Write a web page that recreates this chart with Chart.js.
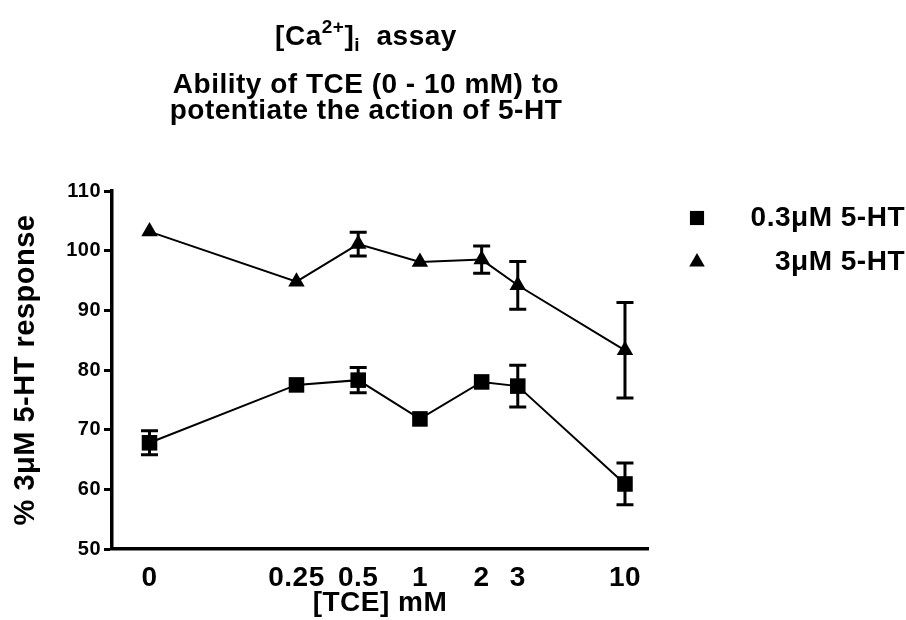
<!DOCTYPE html>
<html><head><meta charset="utf-8">
<script src="https://cdn.jsdelivr.net/npm/chart.js@4.4.1/dist/chart.umd.min.js"></script>
<style>html,body{margin:0;padding:0;background:#fff;}#wrap{width:906px;height:620px;position:relative;}</style>
</head><body><div id="wrap"><canvas id="c" width="906" height="620"></canvas></div>
<script>
// ---- data ----
const concentrations = [0, 0.25, 0.5, 1, 2, 3, 10];          // [TCE] mM
const tickLabels = ['0', '0.25', '0.5', '1', '2', '3', '10'];
const zeroPlotConc = 0.048;                                  // where the 0 mM group sits on the log axis
const seriesLabels = ['0.3\u03BCM 5-HT', '3\u03BCM 5-HT'];
const mean03 = [67.8, 77.5, 78.3, 71.8, 78.0, 77.3, 60.9];
const sem03  = [2.0, 0.8, 2.1, 0.8, 1.0, 3.5, 3.5];
const mean3  = [103.2, 94.8, 101.1, 98.1, 98.5, 94.2, 83.3];
const sem3   = [0.5, 0.5, 2.0, 0.6, 2.3, 4.0, 8.0];
const yTickValues = [50, 60, 70, 80, 90, 100, 110];
const titleLines = ['Ability of TCE (0 - 10 mM) to', 'potentiate the action of 5-HT'];

const FONT = '"Liberation Sans", Arial, sans-serif';
const SPACING = '0.5px';
Chart.defaults.font.family = FONT;
Chart.defaults.color = '#000';

const plotX = c => (c === 0 ? zeroPlotConc : c);
const mk = (means) => concentrations.map((c, i) => ({ x: plotX(c), y: means[i] }));

const spacing = {
  id: 'spacing',
  beforeDraw(chart) { chart.ctx.letterSpacing = SPACING; }
};

// error bars (SEM); bars shorter than the symbol are hidden behind it, as in the original
const errorBars = {
  id: 'errorBars',
  beforeDatasetsDraw(chart) {
    const ctx = chart.ctx, xs = chart.scales.x, ys = chart.scales.y;
    const sems = [sem03, sem3];
    ctx.save();
    ctx.strokeStyle = '#000';
    ctx.lineWidth = 3;
    chart.data.datasets.forEach((ds, di) => {
      ds.data.forEach((p, i) => {
        const px = xs.getPixelForValue(p.x);
        const py = ys.getPixelForValue(p.y);
        const top = ys.getPixelForValue(p.y + sems[di][i]);
        const bot = ys.getPixelForValue(p.y - sems[di][i]);
        if (py - top < 7) return;
        ctx.beginPath();
        ctx.moveTo(px, top); ctx.lineTo(px, bot);
        ctx.moveTo(px - 8.5, top); ctx.lineTo(px + 8.5, top);
        ctx.moveTo(px - 8.5, bot); ctx.lineTo(px + 8.5, bot);
        ctx.stroke();
      });
    });
    ctx.restore();
  }
};

function drawMarker(ctx, style, x, y, r) {
  ctx.beginPath();
  if (style === 'rect') {
    const s = Math.SQRT1_2 * r;
    ctx.rect(x - s, y - s, 2 * s, 2 * s);
  } else {
    ctx.moveTo(x, y - r);
    ctx.lineTo(x + r * Math.sin(Math.PI / 3), y + r * 0.5);
    ctx.lineTo(x - r * Math.sin(Math.PI / 3), y + r * 0.5);
    ctx.closePath();
  }
  ctx.fill();
}

const titleAndLegend = {
  id: 'titleAndLegend',
  afterDraw(chart) {
    const ctx = chart.ctx;
    ctx.save();
    ctx.letterSpacing = SPACING;
    ctx.fillStyle = '#000';
    ctx.textBaseline = 'alphabetic';
    const cx = 366;
    const big = 'bold 28px ' + FONT, small = 'bold 19px ' + FONT;
    const segs = [
      { t: '[Ca', f: big, dy: 0 },
      { t: '2+', f: small, dy: -12 },
      { t: ']', f: big, dy: 0 },
      { t: 'i', f: small, dy: 6 },
      { t: '  assay', f: big, dy: 0 }
    ];
    let w = 0;
    segs.forEach(s => { ctx.font = s.f; s.w = ctx.measureText(s.t).width; w += s.w; });
    let x = cx - w / 2;
    ctx.textAlign = 'left';
    segs.forEach(s => { ctx.font = s.f; ctx.fillText(s.t, x, 45 + s.dy); x += s.w; });
    ctx.font = big;
    ctx.textAlign = 'center';
    ctx.fillText(titleLines[0], cx, 93);
    ctx.fillText(titleLines[1], cx, 119);

    // legend
    const styles = ['rect', 'triangle'];
    const ys = [218, 262];
    chart.data.datasets.forEach((ds, i) => {
      drawMarker(ctx, styles[i], 697, ys[i], styles[i] === 'rect' ? 10 : 9);
      ctx.font = big;
      ctx.textAlign = 'right';
      ctx.textBaseline = 'middle';
      ctx.fillText(seriesLabels[i], 905, ys[i]);
    });
    ctx.restore();
  }
};

new Chart(document.getElementById('c'), {
  type: 'line',
  data: {
    datasets: [
      { label: seriesLabels[0], data: mk(mean03), borderColor: '#000', borderWidth: 2,
        backgroundColor: '#000', pointStyle: 'rect', pointRadius: 11, pointBorderWidth: 0, pointHoverRadius: 11 },
      { label: seriesLabels[1], data: mk(mean3), borderColor: '#000', borderWidth: 2,
        backgroundColor: '#000', pointStyle: 'triangle', pointRadius: 9.5, pointBorderWidth: 0, pointHoverRadius: 9.5 }
    ]
  },
  options: {
    responsive: false,
    animation: false,
    events: [],
    layout: { padding: { left: 0, top: 191, right: 258, bottom: 0 } },
    plugins: { legend: { display: false }, title: { display: false }, tooltip: { enabled: false } },
    scales: {
      x: {
        type: 'logarithmic',
        min: 0.0315, max: 12.95,
        afterBuildTicks: s => { s.ticks = concentrations.map(c => ({ value: plotX(c) })); },
        afterFit: s => { s.height = 71; },
        grid: { display: false, drawTicks: false },
        border: { display: true, color: '#000', width: 3.5 },
        ticks: { autoSkip: false, maxRotation: 0, padding: 12, color: '#000',
          font: { size: 28, weight: 'bold' },
          callback: (v, i) => tickLabels[i] },
        title: { display: true, text: '[TCE] mM', color: '#000', font: { size: 28, weight: 'bold' },
          padding: { top: 0, bottom: 0 } }
      },
      y: {
        type: 'linear',
        min: 50, max: 110,
        afterBuildTicks: s => { s.ticks = yTickValues.map(v => ({ value: v })); },
        afterFit: s => { s.width = 112; },
        grid: { drawOnChartArea: false, drawTicks: true, tickLength: 8, tickWidth: 3, tickColor: '#000' },
        border: { display: true, color: '#000', width: 3.5 },
        ticks: { padding: 3, color: '#000', font: { size: 20, weight: 'bold' } },
        title: { display: true, text: '% 3\u03BCM 5-HT response', color: '#000',
          font: { size: 29, weight: 'bold' }, padding: { top: 9, bottom: 0 } }
      }
    }
  },
  plugins: [spacing, errorBars, titleAndLegend]
});
</script></body></html>
